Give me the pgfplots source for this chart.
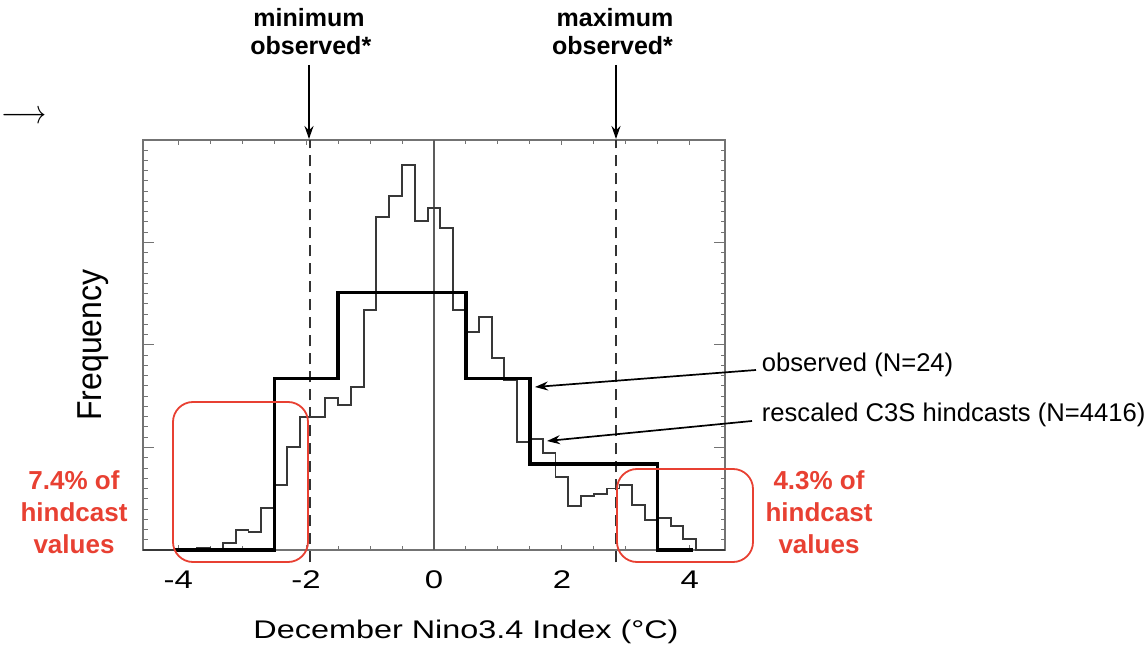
\documentclass[border=0pt]{standalone}
\usepackage{fontspec}
\setmainfont{Liberation Sans}
\usepackage{graphicx}
\usepackage{pgfplots}
\pgfplotsset{compat=1.18}
\usetikzlibrary{arrows.meta}
\definecolor{annred}{RGB}{232,64,50}
\definecolor{framegray}{RGB}{115,115,115}
\pgfplotsset{frameaxis/.style={
  at={(143pt,95pt)}, anchor=south west,
  scale only axis, width=582pt, height=410pt,
  xmin=-4.55, xmax=4.55, ymin=0, ymax=40,
  axis line style={framegray, line width=1.2pt},
  tick align=inside, tick pos=both,
  every tick/.style={framegray, line width=1pt}}}
\begin{document}
\begin{tikzpicture}[x=1pt,y=1pt]
\useasboundingbox (0,0) rectangle (1147,645);
% small ticks
\begin{axis}[frameaxis,
  xtick={-4,-3.5,...,4}, xticklabels={},
  ytick={1,...,39}, yticklabels={},
  major tick length=4.5pt]
\end{axis}
% long y ticks
\begin{axis}[frameaxis,
  xtick=\empty,
  ytick={10,20,30}, yticklabels={},
  major tick length=11pt]
\end{axis}
\begin{axis}[frameaxis,
  clip=false,
  xtick={-4,-2,0,2,4},
  xticklabels={{-4},{-2},{0},{2},{4}},
  ytick=\empty,
  major tick length=5pt,
  xticklabel style={font=\fontsize{25.5}{30}\selectfont, xscale=1.29, yshift=-17.5pt},
]
% zero line
\addplot[framegray!80!black, line width=1.3pt] coordinates {(0,0) (0,40)};
% dashed observed extremes
\addplot[black!80, line width=2.4pt, dash pattern=on 11pt off 7pt] coordinates {(-1.94,-1.2) (-1.94,40)};
\addplot[black!80, line width=2.4pt, dash pattern=on 11pt off 7pt] coordinates {(2.85,-1.2) (2.85,40)};
% rescaled C3S hindcasts (thin)
\addplot[const plot, black!78, line width=1.9pt] coordinates {
(-4.55,0) (-3.7,0.2) (-3.5,0) (-3.3,0.65) (-3.1,1.95) (-2.9,1.8) (-2.7,4.07)
(-2.5,6.34) (-2.3,10.08) (-2.1,13.0) (-1.9,13.0) (-1.7,14.8) (-1.5,14.15)
(-1.3,15.93) (-1.1,23.4) (-0.9,32.46) (-0.7,34.5) (-0.5,37.56) (-0.3,32.1)
(-0.1,33.4) (0.1,31.4) (0.3,23.4) (0.5,21.3) (0.7,22.76) (0.9,18.7)
(1.1,16.6) (1.3,10.57) (1.5,10.8) (1.7,9.43) (1.9,7.15) (2.1,4.29)
(2.3,5.27) (2.5,5.5) (2.7,6.0) (2.9,6.34) (3.1,4.39) (3.3,2.93)
(3.5,3.15) (3.7,2.34) (3.9,1.04) (4.1,0) (4.55,0)};
% observed (thick)
\addplot[const plot, black, line width=3.2pt] coordinates {
(-4.05,0) (-2.5,16.75) (-1.5,25.1) (0.5,16.75) (1.5,8.4) (3.5,0) (4.05,0)};
\end{axis}
% axis labels
\node[anchor=base, inner sep=0pt, font=\fontsize{25.5}{30}\selectfont] at (466,7) {\scalebox{1.27}[1]{December Nino3.4 Index (°C)}};
\node[anchor=base, inner sep=0pt, rotate=90, font=\fontsize{32}{36}\selectfont] at (101.7,300) {\scalebox{1}[1.08]{Frequency}};
% top annotations
\begin{scope}[font=\fontsize{25}{28}\selectfont\bfseries]
\node[anchor=base, inner sep=0pt] at (309,618.3) {minimum};
\node[anchor=base, inner sep=0pt] at (310.8,590.7) {observed*};
\node[anchor=base, inner sep=0pt] at (615,618.3) {maximum};
\node[anchor=base, inner sep=0pt] at (612.5,590.7) {observed*};
\end{scope}
\draw[black, line width=1.7pt, -{Stealth[length=13pt,width=9pt]}] (309,580) -- (309,506);
\draw[black, line width=1.7pt, -{Stealth[length=13pt,width=9pt]}] (616,580) -- (616,506);
% left arrow
\node[anchor=base west, inner sep=0pt, font=\fontsize{24.88}{30}\selectfont] at (1,521.5) {\scalebox{1.13}[1.35]{$\longrightarrow$}};
% series labels
\begin{scope}[font=\fontsize{25.6}{30}\selectfont]
\node[anchor=base west, inner sep=0pt] at (761.7,273.3) {observed (N=24)};
\node[anchor=base west, inner sep=0pt] at (761.7,223.3) {rescaled C3S hindcasts (N=4416)};
\end{scope}
\draw[black, line width=1.7pt, -{Stealth[length=13pt,width=9pt]}] (756,275) -- (535,258);
\draw[black, line width=1.7pt, -{Stealth[length=13pt,width=9pt]}] (752,224) -- (547,204);
% red boxes
\draw[annred, line width=1.8pt, rounded corners=20pt] (173,243) rectangle (308,83);
\draw[annred, line width=1.8pt, rounded corners=20pt] (617,176) rectangle (753,83);
\begin{scope}[font=\fontsize{26}{31}\selectfont\bfseries, text=annred]
\node[anchor=base, inner sep=0pt] at (74,155) {7.4\% of};
\node[anchor=base, inner sep=0pt] at (74,123.3) {hindcast};
\node[anchor=base, inner sep=0pt] at (74,92) {values};
\node[anchor=base, inner sep=0pt] at (819,155) {4.3\% of};
\node[anchor=base, inner sep=0pt] at (819,123.3) {hindcast};
\node[anchor=base, inner sep=0pt] at (819,92) {values};
\end{scope}
\end{tikzpicture}
\end{document}
